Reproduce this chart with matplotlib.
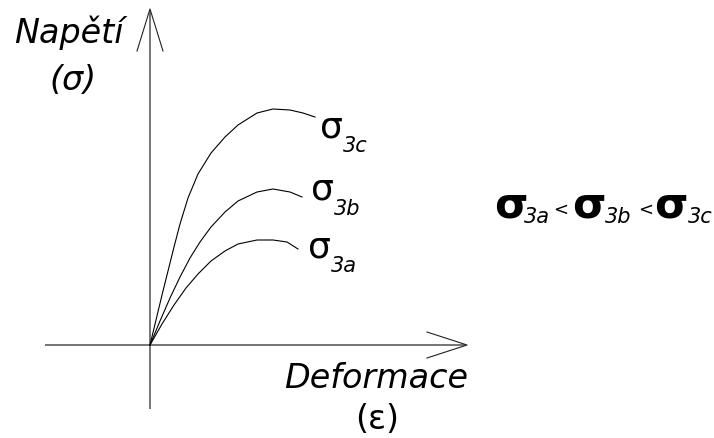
import matplotlib
matplotlib.use("Agg")
from matplotlib import pyplot as plt

# stress-strain curves for three confining pressures (arbitrary units)
strain_a = [0, 12, 24, 36, 48, 61, 75, 88, 107, 123, 137, 148]
stress_a = [0, 21, 40, 57, 71, 84, 94, 101, 105, 105, 103, 96]

strain_b = [0, 10, 20, 30, 40, 50, 61, 75, 88, 107, 123, 140, 152]
stress_b = [0, 24, 47, 68, 87, 103, 118, 133, 144, 153, 156, 153, 148]

strain_c = [0, 6, 12, 18, 24, 30, 38, 48, 61, 75, 88, 107, 123, 140, 153, 165]
stress_c = [0, 25, 50, 74, 98, 121, 147, 171, 192, 208, 220, 232, 236, 235, 232, 228]

curve_labels = ["3a", "3b", "3c"]

AXIS_GREY = "#6a6a6a"
FONT = "DejaVu Sans"

fig = plt.figure(figsize=(7.14, 4.39), dpi=100)
ax = fig.add_axes([0, 0, 1, 1])
ax.set_xlim(-150, 564)
ax.set_ylim(-93, 346)
ax.axis("off")

# axes with open arrow heads
ax.plot([0, 0], [-64, 334], color=AXIS_GREY, lw=1.3, solid_capstyle="butt")
ax.plot([-105, 315], [0, 0], color=AXIS_GREY, lw=1.3, solid_capstyle="butt")
ax.plot([-13, 0, 13], [294, 336, 294], color="#222222", lw=0.8)
ax.plot([277, 317, 277], [13, 0, -13], color="#222222", lw=0.8)

for xs, ys in [(strain_a, stress_a), (strain_b, stress_b), (strain_c, stress_c)]:
    ax.plot(xs, ys, color="black", lw=0.8, solid_joinstyle="round")

# axis titles
ax.text(-81, 303, "Napětí", family=FONT, style="italic", fontsize=24,
        ha="center", va="baseline")
ax.text(-77, 266, "(σ)", family=FONT, style="italic", fontsize=24,
        ha="center", va="center")
ax.text(226, -42, "Deformace", family=FONT, style="italic", fontsize=24,
        ha="center", va="baseline")
ax.text(227, -74, "(ε)", family=FONT, fontsize=24, ha="center", va="center")

# labels at the end of each curve
label_pos = [(158, 89), (161, 146), (170, 209)]
for (x, y), sub in zip(label_pos, curve_labels):
    ax.text(x, y, "σ", family=FONT, fontsize=26, ha="left", va="baseline")
    ax.text(x + 23, y - 15, sub, family=FONT, style="italic", fontsize=15,
            ha="left", va="baseline")

# ordering of the confining stresses
sigma_x = [344, 422, 504]
sub_x = [374, 455, 538]
less_x = [403, 488]
for x, sx, sub in zip(sigma_x, sub_x, curve_labels):
    ax.text(x, 129, "σ", family=FONT, weight="bold", fontsize=31,
            ha="left", va="baseline")
    ax.text(sx, 123, sub, family=FONT, style="italic", fontsize=15,
            ha="left", va="baseline")
for x in less_x:
    ax.text(x, 136, "<", family=FONT, fontsize=13, ha="left", va="center")

fig.savefig("out.png", dpi=100)
